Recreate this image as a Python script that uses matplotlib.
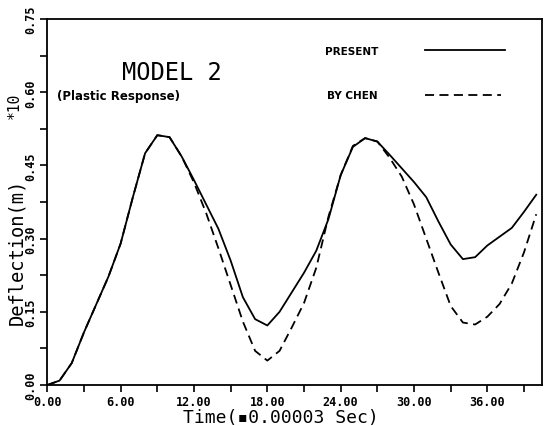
import numpy as np
import matplotlib.pyplot as plt

# time steps (x 0.00003 sec)
t = np.arange(0, 41)

# deflection (m) x10, present analysis
present = [0.0, 0.009, 0.045, 0.108, 0.165, 0.222, 0.29, 0.385, 0.475, 0.512,
           0.508, 0.468, 0.42, 0.37, 0.32, 0.255, 0.18, 0.135, 0.122, 0.15,
           0.19, 0.23, 0.275, 0.34, 0.43, 0.488, 0.506, 0.499, 0.472, 0.444,
           0.416, 0.385, 0.335, 0.288, 0.258, 0.262, 0.286, 0.304, 0.322, 0.355,
           0.39]

# deflection (m) x10, by Chen
chen = [0.0, 0.009, 0.045, 0.108, 0.165, 0.222, 0.29, 0.385, 0.475, 0.512,
        0.508, 0.468, 0.415, 0.352, 0.28, 0.205, 0.13, 0.07, 0.05, 0.07,
        0.118, 0.168, 0.24, 0.345, 0.43, 0.49, 0.506, 0.499, 0.466, 0.427,
        0.37, 0.3, 0.23, 0.162, 0.128, 0.124, 0.14, 0.166, 0.208, 0.272,
        0.35]

xticks = np.arange(0, 40, 3)
xlabels = ['0.00', '', '6.00', '', '12.00', '', '18.00', '', '24.00', '',
           '30.00', '', '36.00', '']
yticks = np.arange(0, 0.76, 0.075)
ylabels = ['0.00', '', '0.15', '', '0.30', '', '0.45', '', '0.60', '', '0.75']

mono = 'DejaVu Sans Mono'
dash = (0, (5, 3))

fig = plt.figure(figsize=(5.5, 4.27), dpi=100)
ax = fig.add_axes([0.086, 0.096, 0.899, 0.857])

ax.plot(t, present, color='black', lw=1.3)
ax.plot(t, chen, color='black', lw=1.3, ls=dash)

ax.set_xlim(0, 40.45)
ax.set_ylim(0, 0.75)
ax.set_xticks(xticks)
ax.set_xticklabels(xlabels, family=mono, fontweight='bold', fontsize=8.5)
ax.set_yticks(yticks)
ax.set_yticklabels(ylabels, family=mono, fontweight='bold', fontsize=8.5,
                   rotation=90, va='center')
ax.tick_params(direction='out', length=5, width=1.2, pad=2)
for s in ax.spines.values():
    s.set_linewidth(1.3)

fig.text(0.03, 0.41, 'Deflection(m)', rotation=90, family=mono,
         fontsize=13.5, ha='center', va='center')
fig.text(0.026, 0.752, '*10', rotation=90, family=mono,
         fontsize=10.5, ha='center', va='center')
fig.text(0.51, 0.022, 'Time(\u25aa0.00003 Sec)', family=mono, fontsize=13,
         ha='center', va='center')

fig.text(0.312, 0.83, 'MODEL 2', family=mono, fontsize=17,
         ha='center', va='center')
fig.text(0.215, 0.773, '(Plastic Response)', fontweight='bold', fontsize=8.5,
         ha='center', va='center')

fig.text(0.64, 0.878, 'PRESENT', fontweight='bold', fontsize=7.5,
         ha='center', va='center')
fig.text(0.64, 0.775, 'BY CHEN', fontweight='bold', fontsize=7.5,
         ha='center', va='center')
fig.add_artist(plt.Line2D([0.773, 0.918], [0.881, 0.881], color='black', lw=1.3))
fig.add_artist(plt.Line2D([0.773, 0.91], [0.775, 0.775], color='black', lw=1.3,
                          ls=dash))

fig.savefig('out.png', dpi=100)
